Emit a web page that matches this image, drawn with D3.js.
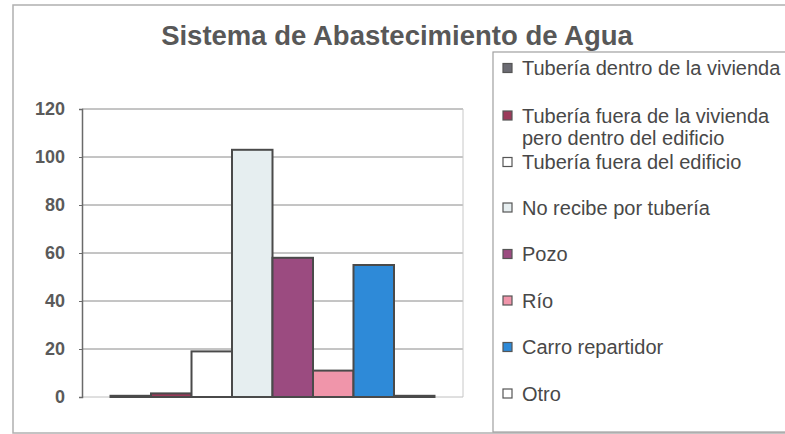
<!DOCTYPE html>
<html>
<head>
<meta charset="utf-8">
<script src="https://cdn.jsdelivr.net/npm/d3@7"></script>
<style>
  html, body { margin: 0; padding: 0; background: #fff; }
  svg { display: block; }
</style>
</head>
<body>
<svg id="chart" width="785" height="434"></svg>
<script>
"use strict";

// Data
const series = [
  ['Tubería dentro de la vivienda'],
  ['Tubería fuera de la vivienda', 'pero dentro del edificio'],
  ['Tubería fuera del edificio'],
  ['No recibe por tubería'],
  ['Pozo'],
  ['Río'],
  ['Carro repartidor'],
  ['Otro']
];
const values = [0.5, 1.5, 19, 103, 58, 11, 55, 0.5];
const barColors = ['#6b6b73', '#9b3a5a', '#ffffff', '#e6eef0', '#9b4b80', '#f095aa', '#2e8ad8', '#ffffff'];
const yTicks = [0, 20, 40, 60, 80, 100, 120];
const title = 'Sistema de Abastecimiento de Agua';

const svg = d3.select('#chart');
const font = "'Liberation Sans', Arial, sans-serif";

// outer chart frame
svg.append('rect')
  .attr('x', 13).attr('y', 5).attr('width', 790).attr('height', 428)
  .attr('fill', '#fff').attr('stroke', '#b0b0b0').attr('stroke-width', 1.5);

svg.append('text')
  .attr('x', 397).attr('y', 45)
  .attr('text-anchor', 'middle')
  .attr('font-family', font).attr('font-weight', 'bold').attr('font-size', '27.5px')
  .attr('fill', '#585858')
  .text(title);

// plot area
const plot = { left: 82, right: 463, top: 109, bottom: 397 };

const y = d3.scaleLinear().domain([0, 120]).range([plot.bottom, plot.top]);
const x0 = d3.scaleBand().domain(['g']).range([plot.left, plot.right]).paddingOuter(0.088).paddingInner(0);
const x1 = d3.scaleBand().domain(d3.range(values.length)).range([0, x0.bandwidth()]).padding(0);

// gridlines
svg.append('g').selectAll('line').data(yTicks.filter(t => t > 0)).enter().append('line')
  .attr('x1', plot.left).attr('x2', plot.right)
  .attr('y1', d => y(d)).attr('y2', d => y(d))
  .attr('stroke', '#8a8a8a').attr('stroke-width', 1);

// right border of plot
svg.append('line')
  .attr('x1', plot.right).attr('x2', plot.right)
  .attr('y1', plot.top).attr('y2', plot.bottom)
  .attr('stroke', '#c8c8c8').attr('stroke-width', 1);

// bottom line
svg.append('line')
  .attr('x1', plot.left).attr('x2', plot.right)
  .attr('y1', plot.bottom).attr('y2', plot.bottom)
  .attr('stroke', '#c0c0c0').attr('stroke-width', 1);

// y axis
const yAxis = svg.append('g')
  .attr('transform', 'translate(' + plot.left + ',0)')
  .call(d3.axisLeft(y).tickValues(yTicks).tickSize(3).tickPadding(14));
yAxis.select('.domain').attr('stroke', '#6a6a6a').attr('stroke-width', 1.5);
yAxis.selectAll('.tick line').attr('stroke', '#6a6a6a');
yAxis.selectAll('text')
  .attr('font-family', font).attr('font-weight', 'bold').attr('font-size', '18px')
  .attr('fill', '#5a5a5a');

// bars
svg.append('g').selectAll('rect').data(values).enter().append('rect')
  .attr('x', (d, i) => x0('g') + x1(i))
  .attr('y', d => y(d))
  .attr('width', x1.bandwidth())
  .attr('height', d => plot.bottom - y(d))
  .attr('fill', (d, i) => barColors[i])
  .attr('stroke', '#4a4a4a')
  .attr('stroke-width', 2);

// legend
svg.append('rect')
  .attr('x', 493).attr('y', 52).attr('width', 320).attr('height', 380)
  .attr('fill', '#fff').attr('stroke', '#a0a0a0').attr('stroke-width', 1.2);

const ly = d3.scaleLinear().domain([0, series.length - 1]).range([68, 393.5]);

// two-line entry sits a bit low, the one after it a bit lower too
const items = svg.append('g').selectAll('g').data(series).enter().append('g')
  .attr('transform', (d, i) => 'translate(0,' + (ly(i) + (d.length > 1 ? 1 : (i === 2 ? 1 : 0))) + ')');

items.append('rect')
  .attr('x', 503).attr('y', -4.5).attr('width', 9).attr('height', 9)
  .attr('fill', (d, i) => barColors[i])
  .attr('stroke', '#555').attr('stroke-width', 1.2);

items.each(function (d) {
  const g = d3.select(this);
  d.forEach((line, k) => {
    g.append('text')
      .attr('x', 522).attr('y', k * 22).attr('dy', '0.35em')
      .attr('font-family', font).attr('font-size', '20px')
      .attr('fill', '#484848')
      .text(line);
  });
});
</script>
</body>
</html>
